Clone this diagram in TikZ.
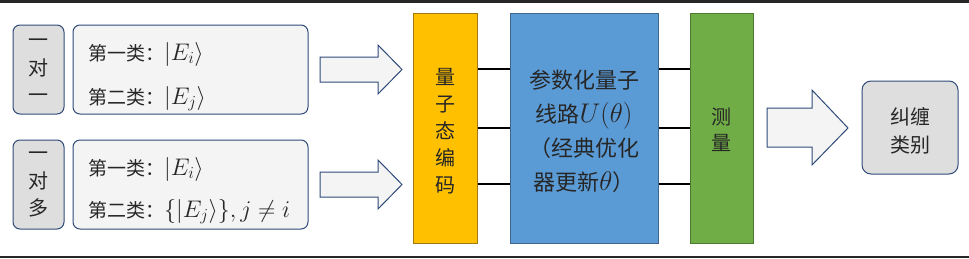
\RequirePackage{fix-cm}
\documentclass[tikz,border=0pt]{standalone}
\usepackage{fontspec}
\setmainfont{Noto Sans CJK SC}
\usetikzlibrary{calc}
\definecolor{navy}{HTML}{2F4B7A}
\definecolor{encY}{HTML}{FFC000}
\definecolor{encYb}{HTML}{A07A10}
\definecolor{pqcB}{HTML}{5B9BD5}
\definecolor{pqcBb}{HTML}{41648C}
\definecolor{meaG}{HTML}{70AD47}
\definecolor{meaGb}{HTML}{4C7A30}
\definecolor{lightgray}{HTML}{DEDEDE}
\definecolor{paler}{HTML}{F4F4F4}
\definecolor{txt}{HTML}{262626}
\newcommand\lmath[1]{{\fontsize{24pt}{24pt}\selectfont$#1$}}
\newcommand\bmath[1]{{\fontsize{27pt}{27pt}\selectfont$#1$}}
\tikzset{
  tagbox/.style={draw=navy, line width=1pt, fill=lightgray, rounded corners=7pt, inner sep=0pt},
  listbox/.style={draw=navy, line width=1pt, fill=paler, rounded corners=7pt, inner sep=0pt},
  blockarrow/.style={draw=navy, line width=1pt, fill=paler, line join=miter},
  stage/.style={line width=1pt, inner sep=0pt, align=center, text=txt},
  wire/.style={line width=1.2pt, black},
  vtext/.style={align=center, text=txt, font=\fontsize{20pt}{27pt}\selectfont},
  ltext/.style={anchor=base west, inner sep=0pt, text=txt, font=\fontsize{19pt}{23pt}\selectfont},
}
\begin{document}
\begin{tikzpicture}[x=1pt,y=-1pt]
\useasboundingbox (0,0) rectangle (969,258);
\fill[txt] (0,0) rectangle (969,2.5);
\fill[txt] (0,255.5) rectangle (969,258);

% left tags
\node[tagbox, minimum width=51pt, minimum height=89pt] (t1) at (38.5,69.5) {};
\node[vtext, font=\fontsize{20pt}{27.5pt}\selectfont] (t1t) at (38.5,71) {一\\对\\一};
\node[listbox, minimum width=235pt, minimum height=89pt] (l1) at (190.5,69.5) {};
\node[ltext] (l1a) at (88,60) {第一类：\lmath{|E_i\rangle}};
\node[ltext] (l1b) at (88,104) {第二类：\lmath{|E_j\rangle}};

\node[tagbox, minimum width=51pt, minimum height=89pt] (t2) at (38.5,184.5) {};
\node[vtext, font=\fontsize{20pt}{27.5pt}\selectfont] (t2t) at (38.5,185) {一\\对\\多};
\node[listbox, minimum width=235pt, minimum height=89pt] (l2) at (190.5,184.5) {};
\node[ltext] (l2a) at (88,175) {第一类：\lmath{|E_i\rangle}};
\node[ltext] (l2b) at (88,217) {第二类：\lmath{\{|E_j\rangle\}, j\neq i}};

% block arrows
\draw[blockarrow] (320,57) -- (378,57) -- (378,45) -- (402,69.5) -- (378,94) -- (378,82) -- (320,82) -- cycle;
\draw[blockarrow] (320,172) -- (378,172) -- (378,160) -- (402,184.5) -- (378,209) -- (378,197) -- (320,197) -- cycle;
\draw[blockarrow] (767,108) -- (812,108) -- (812,90) -- (848,128) -- (812,165) -- (812,147) -- (767,147) -- cycle;

% stages
\node[stage, draw=encYb, fill=encY, minimum width=64pt, minimum height=230pt] (enc) at (445,128) {};
\node[vtext] (enct) at (445,131) {量\\子\\态\\编\\码};
\node[stage, draw=pqcBb, fill=pqcB, minimum width=148pt, minimum height=230pt] (pqc) at (584,128) {};
\node[vtext, font=\fontsize{22pt}{34pt}\selectfont] (pqct) at (584,131) {参数化量子\\线路\bmath{U(\theta)}\\（经典优化\\器更新\bmath{\theta}）};
\node[stage, draw=meaGb, fill=meaG, minimum width=63pt, minimum height=230pt] (mea) at (721.5,128) {};
\node[vtext, font=\fontsize{20pt}{26pt}\selectfont] (meat) at (721.5,130) {测\\量};

\node[tagbox, rounded corners=9pt, minimum width=96pt, minimum height=93pt] (res) at (910,127.5) {};
\node[vtext, font=\fontsize{20pt}{28pt}\selectfont] (rest) at (910,131) {纠缠\\类别};

% wires
\coordinate (w1) at (0,69);
\coordinate (w2) at (0,128);
\coordinate (w3) at (0,184);
\foreach \w in {w1,w2,w3}{
  \draw[wire] (enc.east |- \w) -- (pqc.west |- \w);
  \draw[wire] (pqc.east |- \w) -- (mea.west |- \w);
}
\end{tikzpicture}
\end{document}
